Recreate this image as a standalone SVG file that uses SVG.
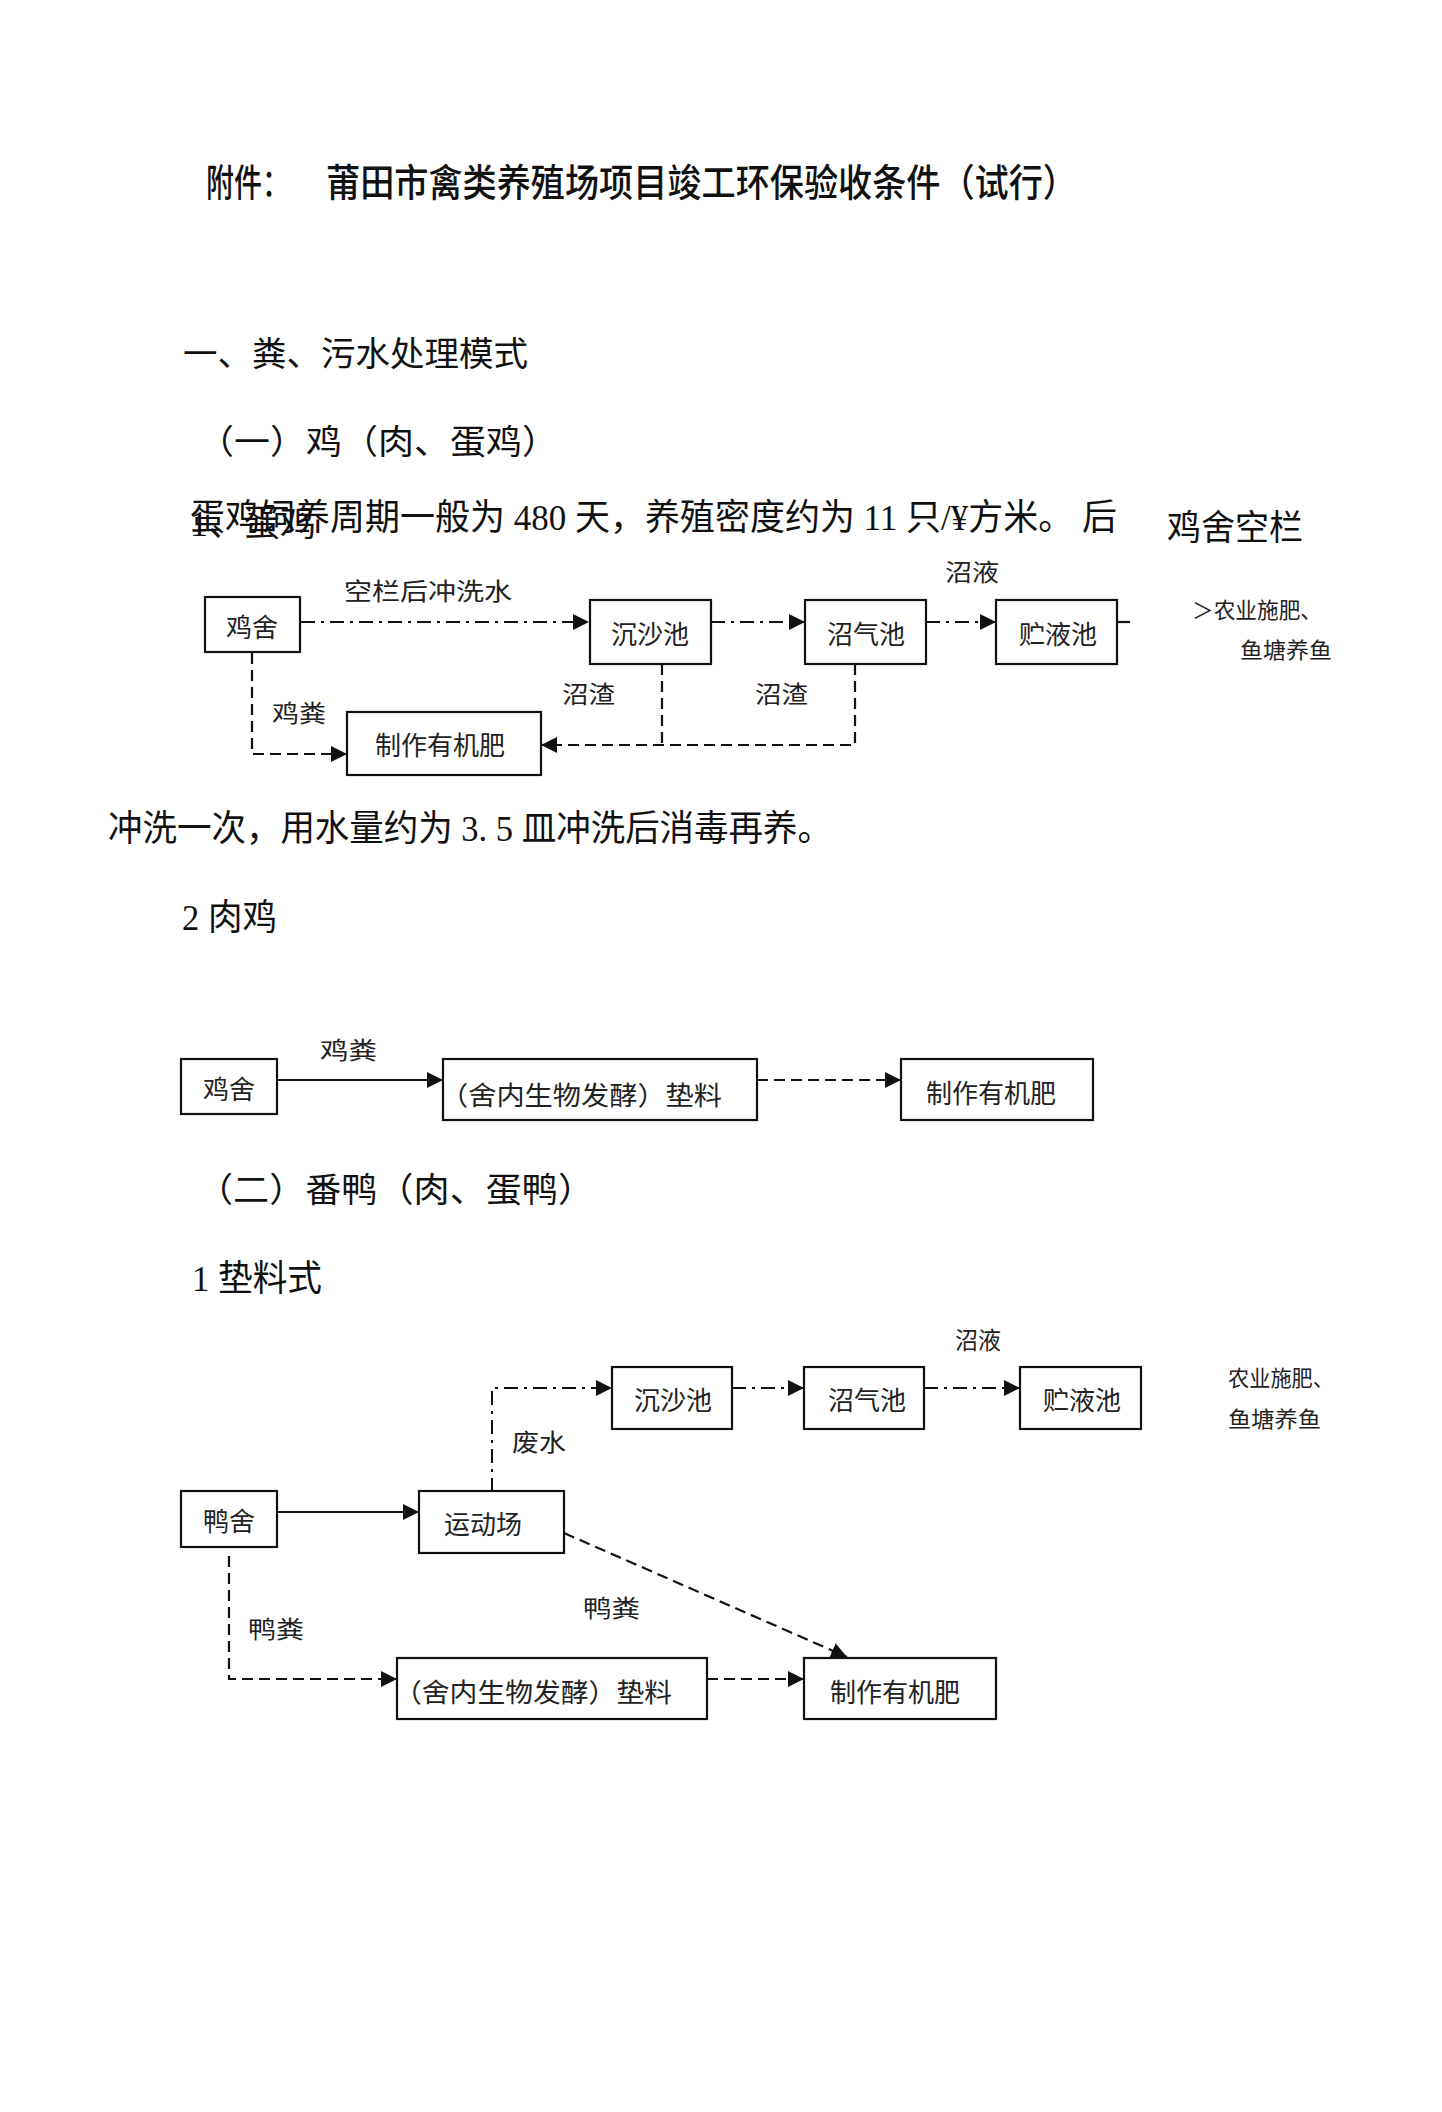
<svg xmlns="http://www.w3.org/2000/svg" width="1442" height="2112" viewBox="0 0 1442 2112">
<defs>
<style>
.bg{fill:#fff}
.t{font-family:"Liberation Serif","Noto Sans CJK SC",serif;fill:#111;dominant-baseline:central}
.h{font-family:"Noto Sans CJK SC",sans-serif;fill:#111;dominant-baseline:central}
.n{font-family:"Noto Sans CJK SC",sans-serif;fill:#222;font-size:26px;dominant-baseline:central}
.l{font-family:"Noto Sans CJK SC",sans-serif;fill:#222;font-size:24px;dominant-baseline:central}
.s{font-family:"Noto Sans CJK SC",sans-serif;fill:#222;font-size:22px;dominant-baseline:central}
.box{fill:#fff;stroke:#111;stroke-width:2.2}
.solid{fill:none;stroke:#111;stroke-width:2.2}
.dash{fill:none;stroke:#111;stroke-width:2.2;stroke-dasharray:11 6}
.dd{fill:none;stroke:#111;stroke-width:2;stroke-dasharray:14 6 3 6}
</style>
<marker id="ah" markerUnits="userSpaceOnUse" markerWidth="18" markerHeight="16" refX="16" refY="8" orient="auto">
<path d="M0,0 L16,8 L0,16 Z" fill="#111"/>
</marker>
</defs>
<rect class="bg" x="0" y="0" width="1442" height="2112"/>

<g id="texts">
<text class="h" x="206" y="179" font-size="38" font-weight="500" textLength="84" lengthAdjust="spacingAndGlyphs">附件：</text>
<text class="h" x="326" y="179" font-size="38" font-weight="500" textLength="751" lengthAdjust="spacingAndGlyphs">莆田市禽类养殖场项目竣工环保验收条件（试行）</text>
<text class="t" x="183" y="354" font-size="34" textLength="345" lengthAdjust="spacingAndGlyphs">一、粪、污水处理模式</text>
<text class="t" x="198" y="442" font-size="34" textLength="360" lengthAdjust="spacingAndGlyphs">（一）鸡（肉、蛋鸡）</text>
<text class="t" x="190" y="518" font-size="36" textLength="927" lengthAdjust="spacingAndGlyphs">蛋鸡饲养周期一般为 480 天，养殖密度约为 11 只/¥方米。 后</text>
<text class="t" x="190" y="524" font-size="36" textLength="126" lengthAdjust="spacingAndGlyphs">1、蛋鸡</text>
<text class="t" x="1167" y="528" font-size="35" textLength="136" lengthAdjust="spacingAndGlyphs">鸡舍空栏</text>
<text class="t" x="108" y="829" font-size="36" textLength="724" lengthAdjust="spacingAndGlyphs">冲洗一次，用水量约为 3. 5 皿冲洗后消毒再养。</text>
<text class="t" x="182" y="918" font-size="36" textLength="95" lengthAdjust="spacingAndGlyphs">2 肉鸡</text>
<text class="t" x="197" y="1190" font-size="34" textLength="397" lengthAdjust="spacingAndGlyphs">（二）番鸭（肉、蛋鸭）</text>
<text class="t" x="192" y="1279" font-size="36" textLength="130" lengthAdjust="spacingAndGlyphs">1 垫料式</text>
</g>

<g id="connectors">
<path class="dd" d="M301 622 H589" marker-end="url(#ah)"/>
<path class="dd" d="M711 622 H805" marker-end="url(#ah)"/>
<path class="dd" d="M926 622 H996" marker-end="url(#ah)"/>
<path class="solid" d="M1117 622 H1130"/>
<path class="dash" d="M252 653 V754 H347" marker-end="url(#ah)"/>
<path class="dash" d="M662 664 V745"/>
<path class="dash" d="M855 664 V745 H541" marker-end="url(#ah)"/>

<path class="solid" d="M277 1080 H443" marker-end="url(#ah)"/>
<path class="dash" d="M757 1080 H901" marker-end="url(#ah)"/>

<path class="dd" d="M492 1492 V1388 H612" marker-end="url(#ah)"/>
<path class="dd" d="M732 1388 H804" marker-end="url(#ah)"/>
<path class="dd" d="M924 1388 H1020" marker-end="url(#ah)"/>
<path class="solid" d="M277 1512 H419" marker-end="url(#ah)"/>
<path class="dash" d="M564 1533 L847 1657" marker-end="url(#ah)"/>
<path class="dash" d="M229 1556 V1679 H397" marker-end="url(#ah)"/>
<path class="dash" d="M707 1679 H804" marker-end="url(#ah)"/>
</g>

<g id="edge-labels">
<text class="l" x="344" y="589" font-size="26" textLength="168" lengthAdjust="spacingAndGlyphs">空栏后冲洗水</text>
<text class="l" x="945" y="570" textLength="54" lengthAdjust="spacingAndGlyphs">沼液</text>
<text class="l" x="562" y="692" textLength="53" lengthAdjust="spacingAndGlyphs">沼渣</text>
<text class="l" x="755" y="692" textLength="53" lengthAdjust="spacingAndGlyphs">沼渣</text>
<text class="l" x="272" y="711" textLength="54" lengthAdjust="spacingAndGlyphs">鸡粪</text>
<text class="s" x="1192" y="608" textLength="130" lengthAdjust="spacingAndGlyphs">＞农业施肥、</text>
<text class="s" x="1240" y="648" textLength="92" lengthAdjust="spacingAndGlyphs">鱼塘养鱼</text>
<text class="l" x="320" y="1048" textLength="57" lengthAdjust="spacingAndGlyphs">鸡粪</text>
<text class="l" x="955" y="1338" textLength="46" lengthAdjust="spacingAndGlyphs">沼液</text>
<text class="s" x="1228" y="1376" textLength="106" lengthAdjust="spacingAndGlyphs">农业施肥、</text>
<text class="s" x="1228" y="1417" textLength="93" lengthAdjust="spacingAndGlyphs">鱼塘养鱼</text>
<text class="l" x="512" y="1440" textLength="54" lengthAdjust="spacingAndGlyphs">废水</text>
<text class="l" x="583" y="1606" textLength="57" lengthAdjust="spacingAndGlyphs">鸭粪</text>
<text class="l" x="248" y="1627" textLength="56" lengthAdjust="spacingAndGlyphs">鸭粪</text>
</g>

<g id="n-jishe1"><rect class="box" x="205" y="597" width="95" height="55"/><text class="n" x="252" y="625" text-anchor="middle">鸡舍</text></g>
<g id="n-chensha1"><rect class="box" x="590" y="600" width="121" height="64"/><text class="n" x="650" y="632" text-anchor="middle">沉沙池</text></g>
<g id="n-zhaoqi1"><rect class="box" x="805" y="600" width="121" height="64"/><text class="n" x="866" y="632" text-anchor="middle">沼气池</text></g>
<g id="n-zhuye1"><rect class="box" x="996" y="600" width="121" height="64"/><text class="n" x="1058" y="632" text-anchor="middle">贮液池</text></g>
<g id="n-feiliao1"><rect class="box" x="347" y="712" width="194" height="63"/><text class="n" x="440" y="743" text-anchor="middle">制作有机肥</text></g>

<g id="n-jishe2"><rect class="box" x="181" y="1059" width="96" height="55"/><text class="n" x="229" y="1087" text-anchor="middle">鸡舍</text></g>
<g id="n-dianliao2"><rect class="box" x="443" y="1059" width="314" height="61"/><text class="n" x="440" y="1093" textLength="282" lengthAdjust="spacingAndGlyphs">（舍内生物发酵）垫料</text></g>
<g id="n-feiliao2"><rect class="box" x="901" y="1059" width="192" height="61"/><text class="n" x="991" y="1091" text-anchor="middle">制作有机肥</text></g>

<g id="n-chensha3"><rect class="box" x="612" y="1367" width="120" height="62"/><text class="n" x="673" y="1398" text-anchor="middle">沉沙池</text></g>
<g id="n-zhaoqi3"><rect class="box" x="804" y="1367" width="120" height="62"/><text class="n" x="867" y="1398" text-anchor="middle">沼气池</text></g>
<g id="n-zhuye3"><rect class="box" x="1020" y="1367" width="121" height="62"/><text class="n" x="1082" y="1398" text-anchor="middle">贮液池</text></g>
<g id="n-yashe3"><rect class="box" x="181" y="1491" width="96" height="56"/><text class="n" x="229" y="1519" text-anchor="middle">鸭舍</text></g>
<g id="n-yundong3"><rect class="box" x="419" y="1491" width="145" height="62"/><text class="n" x="483" y="1522" text-anchor="middle">运动场</text></g>
<g id="n-dianliao3"><rect class="box" x="397" y="1658" width="310" height="61"/><text class="n" x="394" y="1690" textLength="278" lengthAdjust="spacingAndGlyphs">（舍内生物发酵）垫料</text></g>
<g id="n-feiliao3"><rect class="box" x="804" y="1658" width="192" height="61"/><text class="n" x="895" y="1690" text-anchor="middle">制作有机肥</text></g>
</svg>
